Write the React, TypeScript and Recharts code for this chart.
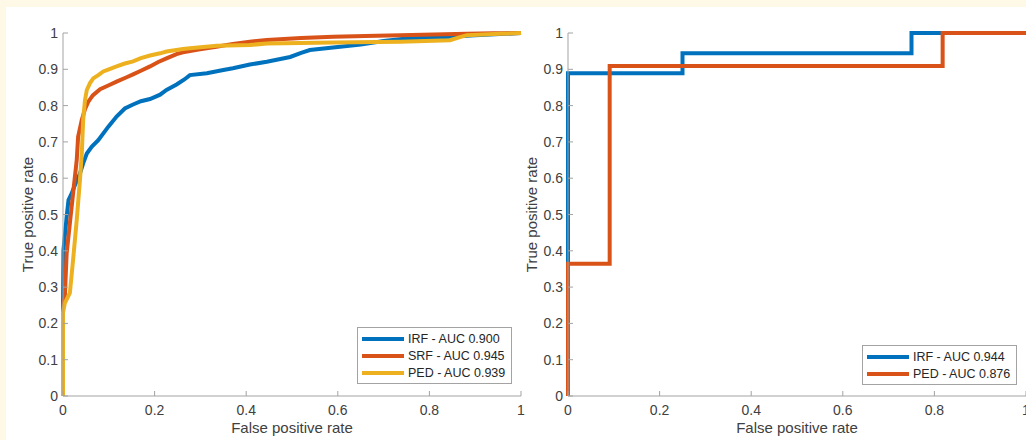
import React from 'react';
import { LineChart, Line, XAxis, YAxis, Legend } from 'recharts';

// ---------- Data: Per Slice ROC ----------
const IRF_FPR = [0, 0, 0.001, 0.008, 0.012, 0.019, 0.026, 0.037, 0.044, 0.052, 0.063, 0.077, 0.099, 0.117, 0.135, 0.153, 0.17, 0.19, 0.212, 0.226, 0.248, 0.265, 0.277, 0.314, 0.35, 0.371, 0.408, 0.445, 0.496, 0.52, 0.539, 0.605, 0.65, 0.7, 0.75, 0.845, 0.9, 0.954, 1];
const IRF_TPR = [0, 0.25, 0.402, 0.494, 0.54, 0.558, 0.581, 0.613, 0.641, 0.668, 0.687, 0.705, 0.742, 0.77, 0.792, 0.803, 0.812, 0.818, 0.83, 0.843, 0.858, 0.872, 0.884, 0.889, 0.898, 0.903, 0.913, 0.921, 0.934, 0.945, 0.953, 0.962, 0.968, 0.978, 0.985, 0.99, 0.994, 0.997, 1];

const SRF_FPR = [0, 0, 0.004, 0.008, 0.015, 0.022, 0.03, 0.033, 0.041, 0.048, 0.055, 0.065, 0.081, 0.1, 0.117, 0.139, 0.153, 0.17, 0.19, 0.208, 0.226, 0.248, 0.262, 0.299, 0.335, 0.371, 0.408, 0.445, 0.52, 0.59, 0.66, 0.736, 0.81, 0.882, 0.94, 1];
const SRF_TPR = [0, 0.25, 0.273, 0.393, 0.476, 0.558, 0.65, 0.714, 0.76, 0.79, 0.81, 0.828, 0.845, 0.856, 0.866, 0.878, 0.886, 0.896, 0.908, 0.92, 0.93, 0.942, 0.947, 0.955, 0.962, 0.97, 0.976, 0.981, 0.986, 0.99, 0.992, 0.994, 0.996, 0.998, 0.999, 1];

const PED_FPR = [0, 0, 0.004, 0.015, 0.022, 0.03, 0.037, 0.041, 0.044, 0.048, 0.052, 0.059, 0.066, 0.077, 0.088, 0.1, 0.117, 0.135, 0.153, 0.17, 0.19, 0.212, 0.226, 0.262, 0.277, 0.336, 0.408, 0.445, 0.59, 0.736, 0.845, 0.865, 0.882, 0.954, 1];
const PED_TPR = [0, 0.23, 0.256, 0.284, 0.375, 0.485, 0.595, 0.668, 0.76, 0.815, 0.843, 0.862, 0.875, 0.884, 0.894, 0.9, 0.908, 0.916, 0.922, 0.931, 0.938, 0.944, 0.949, 0.956, 0.958, 0.965, 0.967, 0.971, 0.974, 0.976, 0.98, 0.988, 0.994, 0.998, 1];

// ---------- Data: Per Volume ROC ----------
const VOL_IRF_FPR = [0, 0, 0.25, 0.25, 0.75, 0.75, 1];
const VOL_IRF_TPR = [0, 0.889, 0.889, 0.944, 0.944, 1, 1];
const VOL_PED_FPR = [0, 0, 0.091, 0.091, 0.818, 0.818, 1];
const VOL_PED_TPR = [0, 0.364, 0.364, 0.909, 0.909, 1, 1];

// ---------- Labels ----------
const X_TICKS = [0, 0.2, 0.4, 0.6, 0.8, 1];
const Y_TICKS = [0, 0.1, 0.2, 0.3, 0.4, 0.5, 0.6, 0.7, 0.8, 0.9, 1];
const TITLE_SLICE = 'ROC - Per Slice Fluid Detection';
const TITLE_VOL = 'ROC - Per Vol Fluid Detection';
const X_LABEL = 'False positive rate';
const Y_LABEL = 'True positive rate';
const SLICE_NAMES = ['IRF - AUC 0.900', 'SRF - AUC 0.945', 'PED - AUC 0.939'];
const VOL_NAMES = ['IRF - AUC 0.944', 'PED - AUC 0.876'];

const BLUE = '#0072BD';
const ORANGE = '#D95319';
const YELLOW = '#EDB120';
const AXIS = '#a3a3a3';
const TEXT = '#404040';
const FONT = '"Liberation Sans", Arial, Helvetica, sans-serif';

type Series = { name: string; color: string; data: { x: number; y: number }[] };

const zip = (xs: number[], ys: number[]) => xs.map((x, i) => ({ x, y: ys[i] }));
const fmt = (v: number) => (v === 0 ? '0' : v === 1 ? '1' : v.toFixed(1));

const BottomTick = (props: any) => {
  const { x, y, payload } = props;
  return (
    <g>
      <line x1={x} x2={x} y1={y} y2={y - 5} stroke={AXIS} strokeWidth={1} />
      <text x={x} y={y + 19} textAnchor="middle" fontSize={14} fill={TEXT} fontFamily={FONT}>
        {fmt(payload.value)}
      </text>
    </g>
  );
};
const LeftTick = (props: any) => {
  const { x, y, payload } = props;
  return (
    <g>
      <line x1={x} x2={x + 5} y1={y} y2={y} stroke={AXIS} strokeWidth={1} />
      <text x={x - 5} y={y + 5} textAnchor="end" fontSize={14} fill={TEXT} fontFamily={FONT}>
        {fmt(payload.value)}
      </text>
    </g>
  );
};
const TopTick = (props: any) => {
  const { x, y } = props;
  return <line x1={x} x2={x} y1={y} y2={y + 5} stroke={AXIS} strokeWidth={1} />;
};
const RightTick = (props: any) => {
  const { x, y } = props;
  return <line x1={x} x2={x - 5} y1={y} y2={y} stroke={AXIS} strokeWidth={1} />;
};

const makeLegend = (width: number, series: Series[]) => () => (
  <div
    style={{
      width,
      boxSizing: 'border-box',
      border: `1px solid ${AXIS}`,
      background: '#fff',
      padding: '2px 0 2px 4px',
      fontFamily: FONT,
      fontSize: 12.5,
      color: '#262626',
    }}
  >
    {series.map((s) => (
      <div key={s.name} style={{ display: 'flex', alignItems: 'center', height: 17, whiteSpace: 'nowrap' }}>
        <div style={{ width: 42, height: 4, background: s.color, marginRight: 4 }} />
        <span>{s.name}</span>
      </div>
    ))}
  </div>
);

const titleContent = (text: string) => (props: any) => {
  const vb = props.viewBox || {};
  return (
    <text x={vb.x + vb.width / 2} y={vb.y - 4} textAnchor="middle" fontSize={15} fontWeight="bold" fill="#111" fontFamily={FONT}>
      {text}
    </text>
  );
};
const xLabelContent = (props: any) => {
  const vb = props.viewBox || {};
  return (
    <text x={vb.x + vb.width / 2} y={vb.y + 37} textAnchor="middle" fontSize={15} fill={TEXT} fontFamily={FONT}>
      {X_LABEL}
    </text>
  );
};
const yLabelContent = (bx: number) => (props: any) => {
  const vb = props.viewBox || {};
  const cy = vb.y + vb.height / 2;
  return (
    <text x={bx} y={cy} transform={`rotate(-90, ${bx}, ${cy})`} textAnchor="middle" fontSize={15} fill={TEXT} fontFamily={FONT}>
      {Y_LABEL}
    </text>
  );
};

function RocPanel(props: {
  width: number;
  margin: any;
  yWidth: number;
  yLabelX: number;
  title: string;
  series: Series[];
  legendPos: { left: number; top: number; width: number };
}) {
  const { width, margin, yWidth, yLabelX, title, series, legendPos } = props;
  return (
    <LineChart width={width} height={440} margin={margin}>
      <XAxis
        xAxisId="b"
        dataKey="x"
        type="number"
        domain={[0, 1]}
        ticks={X_TICKS}
        interval={0}
        height={30}
        tickSize={0}
        tickMargin={0}
        tickLine={false}
        axisLine={{ stroke: AXIS }}
        tick={<BottomTick />}
        label={{ content: xLabelContent }}
      />
      <XAxis
        xAxisId="t"
        orientation="top"
        dataKey="x"
        type="number"
        domain={[0, 1]}
        ticks={X_TICKS}
        interval={0}
        height={0}
        tickSize={0}
        tickMargin={0}
        tickLine={false}
        axisLine={{ stroke: AXIS }}
        tick={<TopTick />}
        label={{ content: titleContent(title) }}
      />
      <YAxis
        yAxisId="l"
        type="number"
        domain={[0, 1]}
        ticks={Y_TICKS}
        interval={0}
        width={yWidth}
        tickSize={0}
        tickMargin={0}
        tickLine={false}
        axisLine={{ stroke: AXIS }}
        tick={<LeftTick />}
        label={{ content: yLabelContent(yLabelX) }}
      />
      <YAxis
        yAxisId="r"
        orientation="right"
        type="number"
        domain={[0, 1]}
        ticks={Y_TICKS}
        interval={0}
        width={0}
        tickSize={0}
        tickMargin={0}
        tickLine={false}
        axisLine={{ stroke: AXIS }}
        tick={<RightTick />}
      />
      {series.map((s) => (
        <Line
          key={s.name}
          xAxisId="b"
          yAxisId="l"
          data={s.data}
          dataKey="y"
          name={s.name}
          type="linear"
          stroke={s.color}
          strokeWidth={4}
          dot={false}
          activeDot={false}
          isAnimationActive={false}
        />
      ))}
      <Legend
        layout="vertical"
        align="center"
        verticalAlign="middle"
        content={makeLegend(legendPos.width, series)}
        wrapperStyle={{ left: legendPos.left, top: legendPos.top, width: legendPos.width, height: 'auto', bottom: 'auto' }}
      />
    </LineChart>
  );
}

export default function App() {
  const sliceSeries: Series[] = [
    { name: SLICE_NAMES[0], color: BLUE, data: zip(IRF_FPR, IRF_TPR) },
    { name: SLICE_NAMES[1], color: ORANGE, data: zip(SRF_FPR, SRF_TPR) },
    { name: SLICE_NAMES[2], color: YELLOW, data: zip(PED_FPR, PED_TPR) },
  ];
  const volSeries: Series[] = [
    { name: VOL_NAMES[0], color: BLUE, data: zip(VOL_IRF_FPR, VOL_IRF_TPR) },
    { name: VOL_NAMES[1], color: ORANGE, data: zip(VOL_PED_FPR, VOL_PED_TPR) },
  ];
  return (
    <div
      style={{
        position: 'absolute',
        left: 0,
        top: 0,
        width: 1026,
        height: 440,
        overflow: 'hidden',
        background: '#FEF9E7',
        fontFamily: FONT,
      }}
    >
      <div style={{ position: 'absolute', left: 6, top: 7, width: 1030, height: 440, background: '#fff' }} />
      <div style={{ position: 'absolute', left: 0, top: 0 }}>
        <RocPanel
          width={530}
          margin={{ top: 33, right: 9, bottom: 14, left: 23 }}
          yWidth={40}
          yLabelX={33}
          title={TITLE_SLICE}
          series={sliceSeries}
          legendPos={{ left: 357, top: 327, width: 155 }}
        />
      </div>
      <div style={{ position: 'absolute', left: 510, top: 0 }}>
        <RocPanel
          width={540}
          margin={{ top: 33, right: 24, bottom: 14, left: 28 }}
          yWidth={30}
          yLabelX={26.5}
          title={TITLE_VOL}
          series={volSeries}
          legendPos={{ left: 352, top: 345, width: 155 }}
        />
      </div>
    </div>
  );
}
